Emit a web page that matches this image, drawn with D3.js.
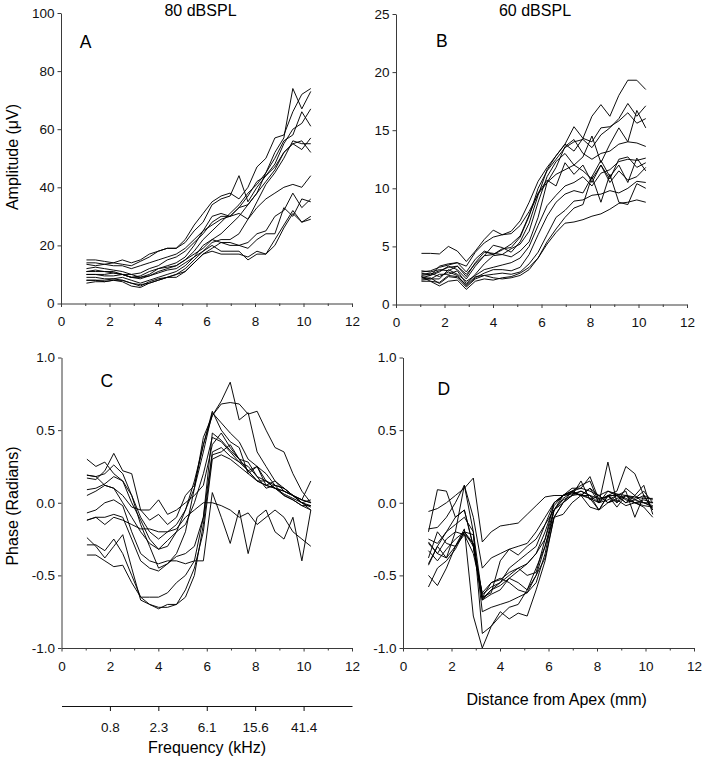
<!DOCTYPE html>
<html>
<head>
<meta charset="utf-8">
<script src="https://cdn.jsdelivr.net/npm/d3@7"></script>
<style>
  html, body { margin: 0; padding: 0; background: #fff; }
  svg { display: block; font-family: "Liberation Sans", Arial, sans-serif; }
</style>
</head>
<body>
<script>
// ---------- DATA ----------
const distance = [1.05,1.42,1.79,2.16,2.53,2.9,3.27,3.64,4.01,4.38,4.75,5.12,5.49,5.86,6.23,6.6,6.97,7.34,7.71,8.08,8.45,8.82,9.19,9.56,9.93,10.3];

// Panel A: amplitude (µV) at 80 dB SPL
const amplitude80 = [
  [12,12.5,12,11.5,11,10,10.5,12,13,15,16,18,21,24,28,30,30,33,34,38,45,52,57,74,67,73],
  [14,14,13.5,14,13.5,13,14.5,16,18,19,19,22,27,31,35,37,38,36,40,47,50,57,58,66,72,74],
  [10,10,9.5,9.5,10,9,9,10,12,13,14,16,20,25,30,31,30,33,37,42,44,48,55,60,62,67],
  [11,11.5,11,10.5,10,9,9.5,11,12,12.5,13,15,18,22,25,28,31,34,38,41,45,50,56,58,66,61],
  [9,9,8.5,8.5,9,8,7,8,9,10,11,13,16,20,22,24,27,30,34,38,42,46,52,55,53,57],
  [8,8,8,8.5,8,7,6.5,7,8,9,10,12,15,18,21,22,22,24,29,35,41,45,50,56,55,55],
  [15,15,14.5,14,15,14,15,17,18,19,19,21,25,28,34,36,37,44,35,40,44,47,52,55,56,52],
  [13.5,13,13.5,13,13,12,13,14,15,16,17,19,22,25,27,29,30,31,29,33,36,38,40,41,40,44],
  [7,7.5,7.5,8,7.5,6,5.5,7,8,9,10,11,14,17,19,21,20,20,21,24,25,30,32,38,33,36],
  [10,10,10,10.5,10,9,8.5,9.5,11,12,13,15,17,19,22,21,21,20,19,22,24,24,33,30,36,35],
  [11,11,11,11,10,10,9,9.5,10.5,11.5,12,14,16,18,20,18,18,18,15,17,17,20,26,31,28,30],
  [8,8,7.5,8,8,7,6,7.5,8.5,9,9,11,14,17,18,17,17,17,16,18,17,22,27,32,28,29]
];

// Panel B: amplitude (µV) at 60 dB SPL
const amplitude60 = [
  [2.8,2.9,3.2,3.4,3.6,3.3,4.5,5.3,5.8,6.0,6.3,7.2,8.8,10.6,11.8,12.8,13.8,15.3,14.3,16.2,17.2,16.2,18.0,19.3,19.3,18.5],
  [4.4,4.4,4.35,5.0,4.6,3.7,4.6,5.6,6.4,6.0,6.1,6.8,8.0,9.5,10.5,11.2,11.6,12.0,11.5,10.8,12.0,10.5,11.5,10.7,11.0,11.8],
  [2.5,2.6,2.9,3.2,3.3,2.6,3.5,4.2,4.3,4.8,4.9,5.8,7.6,10.0,11.5,12.5,13.5,14.0,14.2,13.5,14.6,15.2,16.0,17.3,16.2,17.1],
  [2.3,2.5,2.8,3.3,3.0,2.2,3.3,4.2,5.1,4.9,4.5,5.4,7.0,9.4,11.6,12.8,13.8,13.2,14.3,14.0,15.2,15.3,15.8,16.5,15.6,16.0],
  [2.9,2.8,3.0,2.9,3.3,2.4,3.6,4.5,4.4,4.3,4.8,5.2,6.3,8.8,11.0,12.3,13.0,12.0,12.7,14.5,12.2,13.8,15.2,14.0,16.7,15.2],
  [2.4,2.2,2.6,2.6,2.9,1.8,2.6,3.5,4.2,4.3,4.1,4.6,5.4,7.5,10.5,11.8,13.6,14.2,13.0,12.5,13.0,13.2,13.8,14.0,13.9,13.6],
  [2.1,2.2,2.2,3.0,2.6,2.0,2.5,3.0,3.2,3.4,3.6,4.0,5.0,6.8,8.5,9.4,10.2,10.5,11.0,10.2,11.3,11.6,12.3,12.5,12.4,12.6],
  [2.6,2.7,2.4,2.8,2.5,1.6,2.3,2.7,3.0,3.0,2.9,3.2,4.3,6.0,7.6,8.8,9.5,9.8,9.6,11.0,12.4,11.0,12.0,10.5,12.6,11.5],
  [2.2,2.3,1.8,2.4,2.3,1.5,2.2,2.5,2.6,2.7,2.6,2.8,3.5,4.5,6.0,7.5,8.1,8.9,9.0,9.4,9.5,9.8,9.6,10.0,10.6,10.5],
  [2.0,2.0,1.6,2.0,2.1,1.3,2.0,2.2,2.1,2.3,2.4,2.7,3.2,4.0,5.4,6.5,7.5,8.3,8.6,11.0,8.8,11.2,8.8,8.6,10.4,10.0],
  [2.4,2.0,1.9,2.5,2.4,1.7,2.4,2.5,2.3,2.2,2.3,2.5,3.0,4.0,5.2,6.2,7.0,7.1,7.3,7.6,7.8,8.2,8.7,8.8,9.0,8.8],
  [2.7,2.5,3.3,3.5,3.6,2.8,3.9,4.6,4.3,4.7,5.2,5.9,7.7,9.6,10.7,10.2,12.2,11.2,12.0,10.5,12.0,10.8,12.5,12.7,11.8,12.2]
];

// Panel C: phase (radians) at 80 dB SPL
const phase80 = [
  [0.19,0.18,0.2,0.26,0.2,0.05,-0.15,-0.3,-0.45,-0.42,-0.35,-0.2,0.1,0.45,0.6,0.7,0.83,0.57,0.62,0.35,0.25,0.15,0.1,0.05,0.0,0.02],
  [0.09,0.1,0.13,0.18,0.15,0.0,-0.12,-0.25,-0.32,-0.3,-0.2,-0.05,0.15,0.4,0.6,0.68,0.69,0.68,0.61,0.63,0.5,0.38,0.35,0.2,0.08,0.0],
  [0.3,0.25,0.28,0.2,0.15,0.05,-0.1,-0.2,-0.25,-0.2,-0.15,-0.05,0.1,0.35,0.62,0.55,0.48,0.42,0.3,0.25,0.2,0.12,0.1,0.05,0.02,0.0],
  [0.17,0.16,0.22,0.34,0.22,0.2,-0.05,-0.12,-0.08,-0.15,-0.1,0.05,0.12,0.4,0.63,0.5,0.42,0.38,0.2,0.25,0.15,0.1,0.05,0.02,-0.02,-0.02],
  [-0.24,-0.3,-0.38,-0.3,-0.22,-0.45,-0.67,-0.7,-0.73,-0.7,-0.7,-0.65,-0.5,-0.15,0.33,0.35,0.4,0.3,0.22,0.15,0.12,0.1,0.08,0.05,0.0,-0.02],
  [-0.29,-0.29,-0.33,-0.25,-0.35,-0.5,-0.65,-0.65,-0.65,-0.62,-0.55,-0.5,-0.4,-0.1,0.35,0.38,0.32,0.28,0.22,0.15,0.12,0.1,0.08,0.05,0.02,0.0],
  [-0.36,-0.36,-0.4,-0.44,-0.43,-0.55,-0.65,-0.7,-0.72,-0.72,-0.7,-0.6,-0.45,-0.2,0.3,0.33,0.3,0.25,0.2,0.15,0.15,0.1,0.06,0.03,0.0,-0.05],
  [-0.12,-0.1,-0.1,-0.08,-0.1,-0.25,-0.4,-0.45,-0.47,-0.42,-0.37,-0.35,-0.3,-0.1,0.48,0.43,0.36,0.3,0.28,0.18,0.15,0.12,0.1,0.05,0.0,-0.03],
  [-0.07,-0.05,0.0,0.02,-0.02,-0.2,-0.35,-0.4,-0.42,-0.4,-0.4,-0.42,-0.4,-0.4,0.07,-0.1,-0.28,-0.05,-0.35,-0.1,-0.05,-0.2,-0.25,-0.1,-0.4,-0.05],
  [-0.12,-0.1,-0.15,-0.1,-0.12,-0.15,-0.18,-0.18,-0.2,-0.2,-0.18,-0.1,-0.05,0.0,0.0,-0.02,-0.05,-0.1,-0.07,-0.15,-0.1,-0.05,-0.1,-0.2,-0.25,-0.3],
  [0.05,0.08,0.12,0.1,0.05,-0.03,-0.05,-0.05,0.02,-0.08,-0.05,0.0,0.05,0.12,0.4,0.48,0.38,0.3,0.22,0.25,0.12,0.15,0.08,0.05,0.02,0.15],
  [0.19,0.18,0.12,0.1,0.0,-0.1,-0.2,-0.28,-0.32,-0.26,-0.2,-0.15,0.0,0.2,0.45,0.42,0.35,0.28,0.25,0.18,0.1,0.12,0.05,0.02,-0.02,-0.05]
];

// Panel D: phase (radians) at 60 dB SPL
const phase60 = [
  [-0.06,-0.04,0.0,0.05,0.1,0.17,-0.27,-0.2,-0.16,-0.15,-0.14,-0.08,-0.02,0.04,0.05,0.05,0.06,0.08,0.05,0.03,0.04,0.06,0.05,0.04,0.03,0.03],
  [-0.27,-0.35,-0.38,-0.3,-0.18,-0.78,-1.0,-0.85,-0.78,-0.72,-0.7,-0.6,-0.45,-0.3,-0.1,0.0,0.05,0.06,0.03,0.0,0.02,0.05,0.0,0.02,0.0,-0.02],
  [-0.42,-0.3,-0.2,-0.15,-0.1,-0.2,-0.9,-0.85,-0.75,-0.8,-0.76,-0.78,-0.6,-0.4,-0.1,0.0,0.08,0.1,0.08,0.05,0.08,0.06,0.02,0.0,0.02,0.0],
  [-0.18,-0.17,-0.1,0.0,0.12,-0.1,-0.45,-0.38,-0.35,-0.32,-0.3,-0.28,-0.2,-0.1,0.0,0.05,0.08,0.05,0.1,0.05,0.0,0.05,0.03,0.0,-0.02,-0.03],
  [-0.5,-0.57,-0.45,-0.3,-0.2,-0.28,-0.66,-0.6,-0.55,-0.45,-0.4,-0.35,-0.3,-0.15,0.0,0.05,0.08,0.12,0.15,0.0,0.28,0.0,0.05,0.02,0.05,-0.05],
  [-0.2,0.09,0.08,-0.1,-0.05,-0.3,-0.63,-0.58,-0.55,-0.5,-0.45,-0.42,-0.35,-0.25,-0.05,0.05,0.1,0.1,0.18,0.02,0.05,0.08,0.25,0.2,0.05,0.02],
  [-0.33,-0.4,-0.32,-0.25,-0.2,-0.3,-0.67,-0.63,-0.6,-0.52,-0.55,-0.6,-0.5,-0.3,-0.05,0.02,0.05,0.08,0.05,-0.05,0.05,0.05,0.08,-0.1,0.05,-0.05],
  [-0.38,-0.2,-0.28,-0.3,-0.22,-0.28,-0.65,-0.55,-0.53,-0.48,-0.45,-0.5,-0.48,-0.25,0.0,0.05,0.08,0.05,0.1,0.0,0.05,0.0,0.1,0.05,0.12,-0.08],
  [-0.28,-0.35,-0.25,-0.2,-0.22,-0.35,-0.62,-0.55,-0.52,-0.55,-0.6,-0.62,-0.55,-0.35,-0.05,0.03,0.07,0.05,0.03,-0.05,0.05,-0.03,0.05,0.0,-0.03,-0.1],
  [-0.25,-0.28,-0.2,-0.1,-0.05,-0.3,-0.67,-0.6,-0.57,-0.52,-0.47,-0.42,-0.35,-0.2,-0.02,0.05,0.07,0.05,0.05,0.0,0.08,0.05,0.0,0.05,0.0,0.0],
  [-0.58,-0.45,-0.4,-0.32,-0.2,-0.22,-0.75,-0.72,-0.7,-0.68,-0.65,-0.62,-0.5,-0.38,-0.1,-0.08,0.0,0.05,-0.03,-0.05,0.0,0.02,-0.02,0.0,0.0,-0.03],
  [-0.43,-0.3,-0.38,-0.2,0.12,-0.2,-0.65,-0.62,-0.4,-0.32,-0.36,-0.3,-0.25,-0.15,-0.05,0.0,0.05,0.15,0.02,0.05,0.0,0.03,0.05,0.03,0.08,0.0]
];

// Tick values / labels
const distanceMajorTicks = [0,2,4,6,8,10,12];
const distanceMinorTicks = [1,3,5,7,9,11];
const amp80Ticks = [0,20,40,60,80,100];
const amp60Ticks = [0,5,10,15,20,25];
const phaseTicks = [-1.0,-0.5,0.0,0.5,1.0];
const freqTickPositions = [2,4,6,8,10];
const freqTickLabels = ["0.8","2.3","6.1","15.6","41.4"];

// ---------- DRAWING ----------
const W = 702, H = 758;
const svg = d3.select("body").append("svg").attr("width", W).attr("height", H);

const axisColor = "#3a3a3a";
const tickFont = "13.5px";

const panels = [
  {letter:"A", lx:85.5, ly:48, x0:61, x1:352, yT:13, yB:303.5, dom:[0,100], ticks:amp80Ticks, fmt:d=>String(d), data:amplitude80},
  {letter:"B", lx:441.8, ly:46.5, x0:396, x1:687, yT:14, yB:304.5, dom:[0,25], ticks:amp60Ticks, fmt:d=>String(d), data:amplitude60},
  {letter:"C", lx:106.7, ly:386.5, x0:61.5, x1:352, yT:357.5, yB:648, dom:[-1,1], ticks:phaseTicks, fmt:d=>d.toFixed(1), data:phase80},
  {letter:"D", lx:443.7, ly:395, x0:403, x1:694, yT:357.5, yB:648, dom:[-1,1], ticks:phaseTicks, fmt:d=>d.toFixed(1), data:phase60}
];

function styleAxis(g) {
  g.selectAll("path.domain").attr("stroke", axisColor).attr("stroke-width", 1);
  g.selectAll(".tick line").attr("stroke", axisColor).attr("stroke-width", 1);
  g.selectAll(".tick text").attr("fill", "#111").style("font-size", tickFont)
    .style("font-family", '"Liberation Sans", Arial, sans-serif');
}

const scalesByPanel = {};

panels.forEach(p => {
  const x = d3.scaleLinear().domain([0,12]).range([p.x0, p.x1]);
  const y = d3.scaleLinear().domain(p.dom).range([p.yB, p.yT]);
  scalesByPanel[p.letter] = {x, y};

  // x minor ticks
  const gMinor = svg.append("g").attr("transform", `translate(0,${p.yB})`)
    .call(d3.axisBottom(x).tickValues(distanceMinorTicks).tickFormat("").tickSize(2.5).tickSizeOuter(0));
  gMinor.select("path.domain").remove();
  styleAxis(gMinor);

  // x major axis
  const gx = svg.append("g").attr("transform", `translate(0,${p.yB})`)
    .call(d3.axisBottom(x).tickValues(distanceMajorTicks).tickFormat(d=>String(d)).tickSize(3.5).tickSizeOuter(0).tickPadding(9.5));
  styleAxis(gx);

  // y axis
  const gy = svg.append("g").attr("transform", `translate(${p.x0},0)`)
    .call(d3.axisLeft(y).tickValues(p.ticks).tickFormat(p.fmt).tickSize(3.5).tickSizeOuter(0).tickPadding(3));
  styleAxis(gy);

  // lines
  const line = d3.line().x((d,i) => x(distance[i])).y(d => y(d));
  svg.append("g").selectAll("path.series").data(p.data).join("path")
    .attr("class","series")
    .attr("d", line)
    .attr("fill","none")
    .attr("stroke","#000")
    .attr("stroke-width", 0.95)
    .attr("stroke-linejoin","miter");

  // panel letter
  svg.append("text").attr("x", p.lx).attr("y", p.ly).attr("text-anchor","middle")
    .style("font-size","17.5px").attr("fill","#000").text(p.letter);
});

// Titles
svg.append("text").attr("x", 200.5).attr("y", 15.5).attr("text-anchor","middle")
  .style("font-size","16px").attr("fill","#000").text("80 dBSPL");
svg.append("text").attr("x", 535).attr("y", 15.5).attr("text-anchor","middle")
  .style("font-size","16px").attr("fill","#000").text("60 dBSPL");

// Y axis titles
svg.append("text").attr("transform","translate(18,157) rotate(-90)").attr("text-anchor","middle")
  .style("font-size","16px").attr("fill","#000").text("Amplitude (\u03BCV)");
svg.append("text").attr("transform","translate(18,506) rotate(-90)").attr("text-anchor","middle")
  .style("font-size","16px").attr("fill","#000").text("Phase (Radians)");

// X axis title (distance)
svg.append("text").attr("x", 556.7).attr("y", 704.5).attr("text-anchor","middle")
  .style("font-size","16px").attr("fill","#000").text("Distance from Apex (mm)");

// Frequency axis under panel C
const xC = scalesByPanel["C"].x;
const gf = svg.append("g").attr("transform","translate(0,706)")
  .call(d3.axisBottom(xC).tickValues(freqTickPositions).tickFormat((d,i)=>freqTickLabels[i]).tickSize(5).tickSizeOuter(0).tickPadding(11));
styleAxis(gf);
gf.select("path.domain").attr("stroke","#111");
gf.selectAll(".tick line").attr("stroke","#111");

svg.append("text").attr("x", 207).attr("y", 752.5).attr("text-anchor","middle")
  .style("font-size","16px").attr("fill","#000").text("Frequency (kHz)");
</script>
</body>
</html>
